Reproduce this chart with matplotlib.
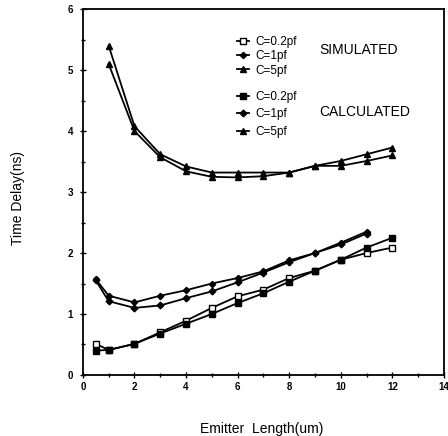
import matplotlib
matplotlib.use("Agg")
import matplotlib.pyplot as plt
from matplotlib.ticker import MultipleLocator

plt.rcParams['font.family'] = ['Liberation Sans', 'DejaVu Sans']

# Emitter length (um)
x_02 = [0.5, 1, 2, 3, 4, 5, 6, 7, 8, 9, 10, 11, 12]
x_1 = [0.5, 1, 2, 3, 4, 5, 6, 7, 8, 9, 10, 11]
x_5 = [1, 2, 3, 4, 5, 6, 7, 8, 9, 10, 11, 12]

# Simulated time delay (ns)
sim_02 = [0.51, 0.41, 0.51, 0.70, 0.89, 1.10, 1.29, 1.40, 1.59, 1.71, 1.89, 2.00, 2.09]
sim_1 = [1.57, 1.30, 1.19, 1.30, 1.39, 1.50, 1.59, 1.70, 1.88, 2.00, 2.17, 2.35]
sim_5 = [5.40, 4.08, 3.62, 3.42, 3.32, 3.32, 3.32, 3.32, 3.43, 3.51, 3.62, 3.73]

# Calculated time delay (ns)
calc_02 = [0.40, 0.41, 0.51, 0.68, 0.84, 1.00, 1.18, 1.34, 1.53, 1.71, 1.89, 2.09, 2.25]
calc_1 = [1.55, 1.21, 1.10, 1.14, 1.26, 1.37, 1.52, 1.68, 1.85, 2.00, 2.14, 2.32]
calc_5 = [5.10, 4.00, 3.57, 3.34, 3.25, 3.24, 3.26, 3.32, 3.43, 3.43, 3.51, 3.60]

labels = ["C=0.2pf", "C=1pf", "C=5pf"]

fig = plt.figure(figsize=(4.48, 4.36), dpi=100)
ax = fig.add_axes([0.185, 0.140, 0.806, 0.839])

lw = 1.3
h_sim = []
h_sim.append(ax.plot(x_02, sim_02, '-s', color='black', lw=lw, ms=4.5,
                     mfc='white', mec='black', mew=1.0)[0])
h_sim.append(ax.plot(x_1, sim_1, '-D', color='black', lw=lw, ms=3.2,
                     mfc='black', mec='black')[0])
h_sim.append(ax.plot(x_5, sim_5, '-^', color='black', lw=lw, ms=4.0,
                     mfc='black', mec='black')[0])
h_calc = []
h_calc.append(ax.plot(x_02, calc_02, '-s', color='black', lw=lw, ms=4.5,
                      mfc='black', mec='black')[0])
h_calc.append(ax.plot(x_1, calc_1, '-D', color='black', lw=lw, ms=3.4,
                      mfc='black', mec='black')[0])
h_calc.append(ax.plot(x_5, calc_5, '-^', color='black', lw=lw, ms=4.0,
                      mfc='black', mec='black')[0])

ax.set_xlim(0, 14)
ax.set_ylim(0, 6)
ax.xaxis.set_major_locator(MultipleLocator(2))
ax.xaxis.set_minor_locator(MultipleLocator(1))
ax.yaxis.set_major_locator(MultipleLocator(1))
ax.yaxis.set_minor_locator(MultipleLocator(0.5))
ax.tick_params(which='both', direction='inout', length=4, width=1.0,
               labelsize=7)
ax.tick_params(axis='x', pad=3)
ax.tick_params(axis='y', pad=5)
ax.tick_params(which='minor', length=3)
for lab in ax.get_xticklabels() + ax.get_yticklabels():
    lab.set_fontweight('bold')
for s in ax.spines.values():
    s.set_linewidth(1.3)

ax.set_xlabel("Emitter  Length(um)", fontsize=10)
ax.xaxis.set_label_coords(0.496, -0.128)
ax.set_ylabel("Time Delay(ns)", fontsize=10)
ax.yaxis.set_label_coords(-0.16, 0.484)

leg_kw = dict(frameon=False, fontsize=8.5, handlelength=1.0, handletextpad=0.6,
              borderpad=0, loc='upper left')
leg1 = ax.legend(h_sim, labels, bbox_to_anchor=(0.41, 0.943),
                 labelspacing=0.2, **leg_kw)
ax.add_artist(leg1)
leg2 = ax.legend(h_calc, labels, bbox_to_anchor=(0.41, 0.792),
                 labelspacing=0.45, **leg_kw)

ax.text(0.655, 0.887, "SIMULATED", transform=ax.transAxes, fontsize=10,
        va='center', ha='left')
ax.text(0.655, 0.718, "CALCULATED", transform=ax.transAxes, fontsize=10,
        va='center', ha='left')

fig.savefig("out.png", dpi=100)
